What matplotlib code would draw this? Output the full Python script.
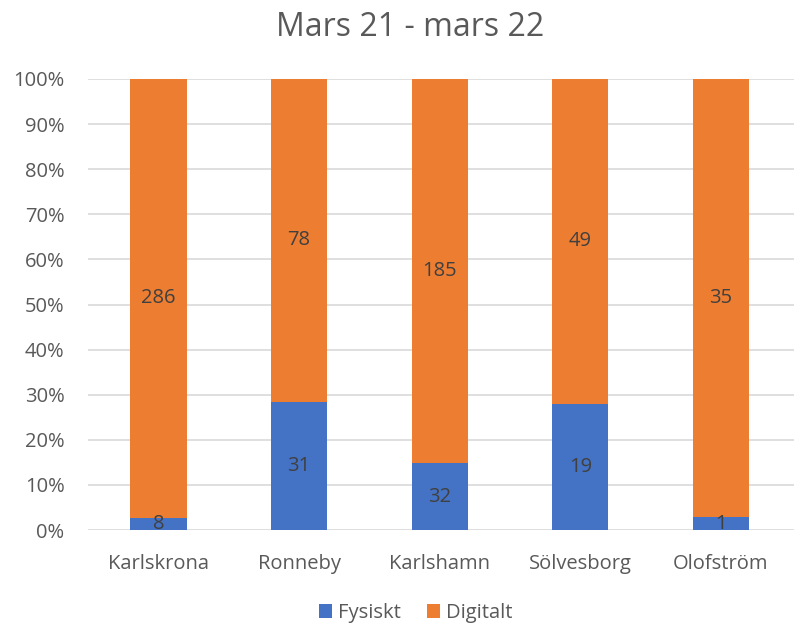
import matplotlib.pyplot as plt
import numpy as np

plt.rcParams['font.family'] = ['Open Sans', 'DejaVu Sans']

kommuner = ['Karlskrona', 'Ronneby', 'Karlshamn', 'Sölvesborg', 'Olofström']
fysiskt = [8, 31, 32, 19, 1]
digitalt = [286, 78, 185, 49, 35]

blue = '#4472C4'
orange = '#ED7D31'

fys = np.array(fysiskt, dtype=float)
dig = np.array(digitalt, dtype=float)
tot = fys + dig
fys_p = fys / tot * 100
dig_p = dig / tot * 100

fig = plt.figure(figsize=(7.94, 6.25), dpi=100)
ax = fig.add_axes([0.111, 0.152, 0.889, 0.7216])
x = np.arange(len(kommuner))
b1 = ax.bar(x, fys_p, width=0.4, color=blue, label='Fysiskt', zorder=3)
b2 = ax.bar(x, dig_p, width=0.4, bottom=fys_p, color=orange, label='Digitalt', zorder=3)

for i in range(len(x)):
    ax.text(x[i], fys_p[i] / 2, str(fysiskt[i]), ha='center', va='center',
            fontsize=14.5, color='#404040', zorder=4)
    ax.text(x[i], fys_p[i] + dig_p[i] / 2, str(digitalt[i]), ha='center', va='center',
            fontsize=14.5, color='#404040', zorder=4)

ax.set_xlim(-0.5, 4.52)
ax.set_ylim(0, 100)
ax.set_yticks(np.arange(0, 101, 10))
ax.set_yticklabels([f'{v}%' for v in range(0, 101, 10)])
ax.set_xticks(x)
ax.set_xticklabels(kommuner)
ax.tick_params(axis='both', length=0, labelsize=14.5, labelcolor='#595959')
ax.tick_params(axis='y', pad=17)
ax.tick_params(axis='x', pad=17)
ax.yaxis.grid(True, color='#D9D9D9', linewidth=1.2, zorder=0)
for s in ax.spines.values():
    s.set_visible(False)

fig.text(410 / 794, 1 - 27 / 625, 'Mars 21 - mars 22', ha='center', va='center',
         fontsize=23, color='#595959')

fig.legend(handles=[b1, b2], loc='center', bbox_to_anchor=(416 / 794, 1 - 613 / 625),
           ncol=2, frameon=False, fontsize=14.5, handlelength=0.65, handleheight=0.65,
           columnspacing=1.3, handletextpad=0.3, labelcolor='#595959')

fig.savefig('out.png', dpi=100)
